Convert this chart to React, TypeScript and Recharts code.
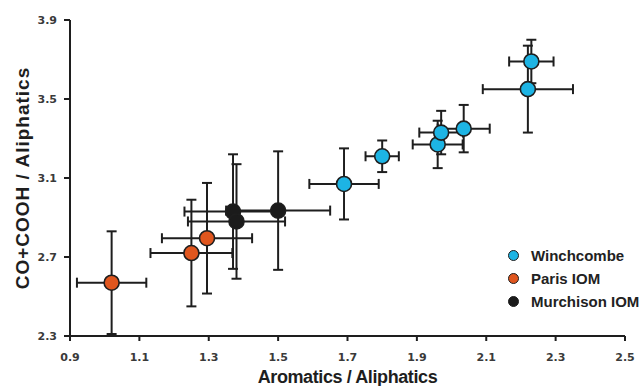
import React from 'react'
import { ScatterChart, Scatter, XAxis, YAxis, ErrorBar } from 'recharts'

const xTicks = [0.9, 1.1, 1.3, 1.5, 1.7, 1.9, 2.1, 2.3, 2.5]
const yTicks = [2.3, 2.7, 3.1, 3.5, 3.9]

const winchX = [1.69, 1.8, 1.96, 1.97, 2.035, 2.22, 2.23]
const winchY = [3.07, 3.21, 3.27, 3.33, 3.35, 3.55, 3.69]
const winchEx = [0.1, 0.048, 0.072, 0.063, 0.075, 0.13, 0.064]
const winchEy = [0.18, 0.08, 0.12, 0.11, 0.12, 0.22, 0.11]

const parisX = [1.02, 1.25, 1.295]
const parisY = [2.57, 2.72, 2.795]
const parisEx = [0.1, 0.118, 0.13]
const parisEy = [0.26, 0.27, 0.28]

const murchX = [1.37, 1.38, 1.5]
const murchY = [2.93, 2.88, 2.935]
const murchEx = [0.14, 0.14, 0.15]
const murchEy = [0.29, 0.29, 0.3]

const build = (xs: number[], ys: number[], ex: number[], ey: number[]) =>
  xs.map((x, i) => ({ x, y: ys[i], ex: ex[i], ey: ey[i] }))

const series = [
  { name: 'Paris IOM', color: '#E0561E', data: build(parisX, parisY, parisEx, parisEy) },
  { name: 'Murchison IOM', color: '#1b1b1b', data: build(murchX, murchY, murchEx, murchEy) },
  { name: 'Winchcombe', color: '#1DB4E4', data: build(winchX, winchY, winchEx, winchEy) },
]
const legendOrder = ['Winchcombe', 'Paris IOM', 'Murchison IOM']

const INK = '#1e1e1e'

const dot = (color: string) => (props: any) => (
  <circle cx={props.cx} cy={props.cy} r={7.5} fill={color} stroke={INK} strokeWidth={1.6} />
)

const tickStyle = { fontFamily: 'DejaVu Sans', fontWeight: 700, fontSize: 11, fill: '#3a3a3a' }

function LegendBox() {
  return (
    <div
      style={{
        position: 'absolute', left: 508, top: 244,
        fontFamily: 'Liberation Sans, Arial', fontWeight: 700, fontSize: 15, color: '#222',
      }}
    >
      {legendOrder.map((n) => {
        const s = series.find((q) => q.name === n)!
        return (
          <div key={n} style={{ display: 'flex', alignItems: 'center', height: 23, whiteSpace: 'nowrap' }}>
            <span
              style={{
                width: 9, height: 9, borderRadius: '50%', background: s.color,
                border: `1.5px solid ${INK}`, marginRight: 12, display: 'inline-block',
              }}
            />
            {n}
          </div>
        )
      })}
    </div>
  )
}

export default function App() {
  return (
    <div style={{ position: 'absolute', left: 0, top: 0, width: 642, height: 386, background: '#fff' }}>
      <ScatterChart width={642} height={386} margin={{ top: 20, right: 17, bottom: 0, left: 20 }}>
        <XAxis
          type="number"
          dataKey="x"
          domain={[0.9, 2.5]}
          ticks={xTicks}
          tickFormatter={(v: number) => v.toFixed(1)}
          height={50}
          allowDataOverflow
          stroke={INK}
          strokeWidth={2}
          tickSize={5}
          tickMargin={12}
          tick={tickStyle}
          label={(p: any) => {
            const vb = p.viewBox
            return (
              <text
                x={vb.x + vb.width / 2}
                y={383}
                textAnchor="middle"
                style={{ fontFamily: 'Liberation Sans', fontWeight: 700, fontSize: 18, letterSpacing: -0.4 }}
                fill={INK}
              >
                Aromatics / Aliphatics
              </text>
            )
          }}
        />
        <YAxis
          type="number"
          dataKey="y"
          domain={[2.3, 3.9]}
          ticks={yTicks}
          tickFormatter={(v: number) => v.toFixed(1)}
          width={50}
          allowDataOverflow
          stroke={INK}
          strokeWidth={2}
          tickSize={6}
          tickMargin={7}
          tick={tickStyle}
          label={(p: any) => {
            const vb = p.viewBox
            const cy = vb.y + vb.height / 2
            return (
              <text
                x={29}
                y={cy}
                textAnchor="middle"
                transform={`rotate(-90 29 ${cy})`}
                style={{ fontFamily: 'Liberation Sans', fontWeight: 700, fontSize: 19, letterSpacing: 1 }}
                fill={INK}
              >
                CO+COOH / Aliphatics
              </text>
            )
          }}
        />
        {series.map((s) => (
          <Scatter
            key={s.name}
            name={s.name}
            data={s.data}
            fill={s.color}
            shape={dot(s.color)}
            isAnimationActive={false}
          >
            <ErrorBar dataKey="ex" direction="x" width={5} stroke={INK} strokeWidth={2} isAnimationActive={false} />
            <ErrorBar dataKey="ey" direction="y" width={5} stroke={INK} strokeWidth={2} isAnimationActive={false} />
          </Scatter>
        ))}
      </ScatterChart>
      <LegendBox />
    </div>
  )
}
